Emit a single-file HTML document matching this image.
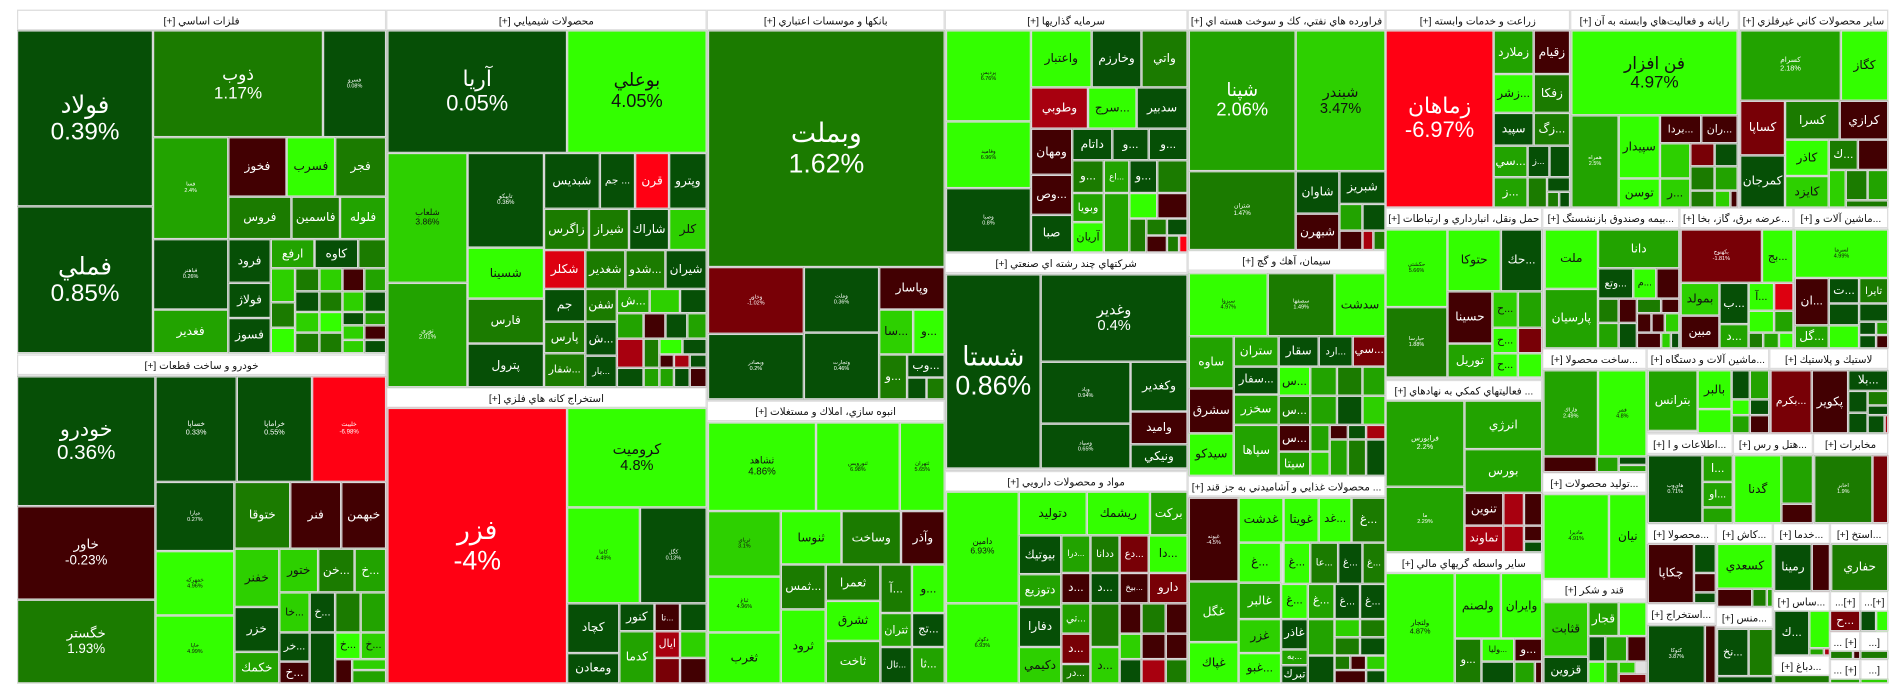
<!DOCTYPE html>
<html><head><meta charset="utf-8">
<style>
html,body{margin:0;padding:0;background:#fff;width:1904px;height:698px;overflow:hidden}
#wrap{position:absolute;left:0;top:0;width:1568px;height:575px;transform:scale(1.2143,1.2139);transform-origin:0 0;font-family:"Liberation Sans","DejaVu Sans",sans-serif}
.sec{position:absolute;background:#e2e2e2;box-sizing:border-box;border:1px solid #d4d4d4}
.hdr{position:absolute;background:#fff;color:#111;font-size:8.5px;line-height:16px;text-align:center;white-space:nowrap;overflow:hidden;direction:rtl;box-sizing:border-box;border:1px solid #ddd}
.t{position:absolute;box-sizing:border-box;border:1px solid #d8d8d8;display:flex;flex-direction:column;align-items:center;justify-content:center;overflow:hidden;text-align:center;line-height:1.1;white-space:nowrap;direction:rtl}
</style></head><body>
<div id="wrap"></div>
<script>
const sectorTitles=['فلزات اساسي [+]','خودرو و ساخت قطعات [+]','محصولات شيميايي [+]','استخراج كانه هاي فلزي [+]','بانكها و موسسات اعتباري [+]','انبوه سازي، املاك و مستغلات [+]','سرمايه گذاريها [+]','شركتهاي چند رشته اي صنعتي [+]','مواد و محصولات دارويي [+]','فراورده هاي نفتي، كك و سوخت هسته اي [+]','سيمان، آهك و گچ [+]','... محصولات غذايي و آشاميدني به جز قند [+]','زراعت و خدمات وابسته [+]','رايانه و فعاليت‌هاي وابسته به آن [+]','ساير محصولات كاني غيرفلزي [+]','حمل ونقل، انبارداري و ارتباطات [+]','... فعاليتهاي كمكي به نهادهاي [+]','ساير واسطه گريهاي مالي [+]','...بيمه وصندوق بازنشستگ [+]','...عرضه برق، گاز، بخا [+]','...ماشين آلات و [+]','...ساخت محصولا [+]','...توليد محصولات [+]','قند و شكر [+]','...ماشين آلات و دستگاه [+]','لاستيك و پلاستيك [+]','...اطلاعات و ا [+]','...هتل و رس [+]','مخابرات [+]','...محصولا [+]','...استخراج [+]','...كاش [+]','...منس [+]','...خدما [+]','...استخ [+]','...ساس [+]','...دباغ [+]','[+]...','[+]...','[+] ...','[...','[+] ...','[...'];
const sectorBoxes=[[14,8,318,291],[14,292,318,563],[318,8,582,319],[318,319,582,563],[582,8,778,330],[582,330,778,563],[778,8,978,208],[778,208,978,388],[778,388,978,563],[978,8,1141,206],[978,206,1141,392],[978,392,1141,563],[1141,8,1293,171],[1293,8,1432,171],[1432,8,1555,171],[1141,171,1270,313],[1141,313,1270,455],[1141,455,1270,563],[1270,171,1383,287],[1383,171,1477,287],[1477,171,1555,287],[1270,287,1356,389],[1270,389,1356,477],[1270,477,1356,563],[1356,287,1457,357],[1457,287,1555,357],[1356,357,1427,431],[1427,357,1493,431],[1493,357,1555,431],[1356,431,1413,497],[1356,497,1413,563],[1413,431,1460,500],[1413,500,1460,563],[1460,431,1507,487],[1507,431,1555,487],[1460,487,1507,540],[1460,540,1507,563],[1507,487,1532,520],[1532,487,1555,520],[1507,520,1532,543],[1532,520,1555,543],[1507,543,1532,563],[1532,543,1555,563]];
const colorScale={D:'#064f06',M:'#1b7b00',G:'#22a300',L:'#2dd000',B:'#33ff00',R:'#ff0013',X:'#dd0010',r:'#a8000f',k:'#780006',K:'#420002'};
// tiles: x1,y1,x2,y2,color,symbol,change,fontSize
const tiles=[
[14,25,126,170,'D','فولاد','0.39%',20],[14,170,126,291,'D','فملي','0.85%',20],[126,25,266,113,'M','ذوب','1.17%',14],[266,25,318,113,'D','فسرو','0.08%',4.5],
[126,113,188,197,'G','فسا','2.4%',4.5],[126,197,188,255,'D','فباهنر','0.26%',4.5],[126,255,188,291,'G','فغدير'],
[188,113,236,162,'K','فخوز'],[236,113,276,162,'B','فسرب'],[276,113,318,162,'M','فجر'],[188,162,240,197,'M','فروس'],[240,162,280,197,'M','فاسمين'],[280,162,318,197,'G','فلوله'],
[188,197,223,233,'D','فرود'],[188,233,223,262,'D','فولاژ'],[188,262,223,291,'D','فسوز'],[223,197,259,221,'G','ارفع'],[259,197,295,221,'D','كاوه'],[295,197,318,221,'M',''],
[223,221,243,249,'L',''],[223,249,243,270,'M',''],[223,270,243,291,'B',''],[243,221,263,240,'M',''],[243,240,263,257,'D',''],[243,257,263,274,'L',''],[243,274,263,291,'M',''],
[263,221,282,240,'L',''],[263,240,282,257,'M',''],[263,257,282,274,'B',''],[263,274,282,291,'M',''],[282,221,300,240,'K',''],[282,240,300,257,'L',''],[282,257,300,268,'D',''],[282,268,300,280,'L',''],[282,280,300,291,'L',''],
[300,221,318,240,'G',''],[300,240,318,257,'D',''],[300,257,318,268,'G',''],[300,268,318,280,'K',''],[300,280,318,291,'D',''],
[14,310,128,417,'D','خودرو','0.36%',17],[14,417,128,494,'K','خاور','-0.23%',11],[14,494,128,563,'M','خگستر','1.93%',11],
[128,310,195,397,'D','خساپا','0.33%',6],[195,310,257,397,'D','خراماپا','0.55%',6],[257,310,318,397,'R','خليبت','-6.98%',5],
[128,397,193,454,'D','ميارا','0.27%',4.5],[128,454,193,507,'B','خمهركه','4.96%',4.5],[128,507,193,563,'B','خاپا','4.99%',4.5],
[193,397,239,452,'M','ختوقا'],[239,397,281,452,'K','فنر'],[281,397,318,452,'K','خبهمن'],[193,452,230,500,'L','خفنر'],[193,500,230,537,'D','خزر'],[193,537,230,563,'G','خكمك'],
[230,452,262,488,'L','ختور'],[262,452,292,488,'M','...خن'],[292,452,318,488,'G','...خ'],[230,488,255,521,'L','...خا'],[255,488,276,521,'D','...خ'],[276,488,297,521,'M',''],[297,488,318,521,'G',''],
[230,521,255,545,'D','...خر'],[255,521,276,563,'D',''],[276,521,297,543,'B','...خ'],[297,521,318,543,'L','...خ'],[230,545,255,563,'K','...خ'],[276,543,290,563,'K',''],[290,543,318,552,'L',''],[290,552,318,563,'G',''],
[319,25,467,126,'D','آريا','0.05%',18],[467,25,582,126,'B','بوعلي','4.05%',15],[319,126,385,233,'L','شلعاب','3.86%',7],[319,233,385,319,'G','نوري','2.01%',5],
[385,126,448,204,'D','تاپيكو','0.36%',5],[385,204,448,246,'B','شسينا'],[385,246,448,283,'M','فارس'],[385,283,448,319,'D','پترول'],
[448,126,494,172,'D','شبديس'],[494,126,523,172,'D','... جم'],[523,126,551,172,'R','قرن'],[551,126,582,172,'D','وپترو'],
[448,172,485,206,'M','زاگرس'],[485,172,518,206,'M','شيراز'],[518,172,551,206,'D','شاراك'],[551,172,582,206,'L','كلر'],
[448,206,482,238,'X','شكلر'],[482,206,515,238,'M','شغدير'],[515,206,548,238,'M','...شدو'],[548,206,582,238,'D','شيران'],
[448,238,482,265,'D','جم'],[482,238,508,265,'M','شفن'],[508,238,535,258,'G','...ش'],[535,238,560,258,'L',''],[560,238,582,258,'D',''],
[448,265,482,291,'M','پارس'],[482,265,508,293,'D','...ش'],[448,291,482,319,'M','...شفار'],[482,293,508,319,'D','...بار'],
[508,258,530,279,'G',''],[530,258,548,279,'K',''],[548,258,566,279,'D',''],[566,258,582,279,'G',''],
[508,279,530,303,'r',''],[530,279,543,303,'M',''],[543,279,562,292,'B',''],[562,279,582,292,'D',''],[543,292,555,303,'K',''],[555,292,568,303,'r',''],[568,292,582,303,'D',''],
[508,303,530,319,'D',''],[530,303,543,319,'G',''],[543,303,555,319,'G',''],[555,303,568,319,'D',''],[568,303,582,319,'K',''],
[319,336,467,563,'R','فزر','-4%',22],[467,336,582,418,'B','كروميت','4.8%',12],[467,418,527,497,'B','كاما','4.49%',4.5],[527,418,582,497,'D','كگل','0.13%',4.5],
[467,497,510,538,'D','كچاد'],[467,538,510,563,'D','ومعادن'],[510,497,539,520,'D','كنور'],[510,520,539,563,'G','كدما'],[539,497,560,520,'K','...تا'],[539,520,560,542,'r','ايال'],[539,542,560,563,'k',''],[560,497,582,520,'D',''],[560,520,582,542,'L',''],[560,542,582,563,'K',''],
[583,25,778,220,'M','وبملت','1.62%',22],[583,220,662,275,'k','وخاور','-1.02%',4.5],[583,275,662,329,'D','وبصادر','0.2%',4.5],[662,220,724,274,'D','وملت','0.36%',4.5],[662,274,724,329,'D','وتجارت','0.46%',4.5],
[724,220,778,255,'K','وپاسار'],[724,255,752,292,'L','...سا'],[752,255,778,292,'B','...و'],[724,292,747,329,'M','...و'],[747,292,778,311,'D','...وب'],[747,311,763,329,'D',''],[763,311,778,329,'M',''],
[583,348,672,421,'B','ثشاهد','4.86%',8],[672,348,741,421,'B','ثنورويس','6.98%',4.5],[741,348,778,421,'B','ثتهران','5.65%',4.5],
[583,421,643,475,'L','ثرياي','3.1%',4.5],[583,475,643,521,'B','ثباغ','4.96%',4.5],[583,521,643,563,'B','ثغرب'],
[643,421,693,465,'B','ثنوسا'],[693,421,742,465,'M','وساخت'],[742,421,778,465,'K','وآذر'],
[643,465,680,502,'M','...ثمس'],[680,465,725,495,'M','ثعمرا'],[725,465,751,505,'M','...آ'],[751,465,778,505,'B','...و'],
[643,502,680,563,'B','ثرود'],[680,495,725,528,'B','ثشرق'],[680,528,725,563,'G','ثاخت'],[725,505,751,533,'G','ثتران'],[751,505,778,533,'D','...تج'],[725,533,751,563,'D','...ثال'],[751,533,778,563,'G','...ثا'],
[779,25,849,100,'B','پرديس','6.76%',4.5],[779,100,849,155,'B','وفاميد','6.96%',4.5],[779,155,849,208,'D','وصبا','0.8%',4.5],
[849,25,899,72,'B','واعتبار'],[899,25,940,72,'D','وخارزم'],[940,25,978,72,'M','واتي'],
[849,72,896,106,'r','وطوبي'],[896,72,936,106,'B','...سرج'],[936,72,978,106,'D','سدبير'],
[849,106,883,144,'K','ومهان'],[849,144,883,177,'K','...وص'],[849,177,883,208,'D','صبا'],
[883,106,916,132,'D','داتام'],[916,106,946,132,'D','...و'],[946,106,978,132,'D','...و'],
[883,132,909,159,'M','...و'],[909,132,930,159,'G','...اع'],[930,132,953,159,'D','...و'],[953,132,978,159,'M',''],
[883,159,909,183,'G','وبويا'],[883,183,909,208,'B','آريان'],[909,159,930,208,'G',''],[930,159,953,180,'B',''],[953,159,978,180,'K',''],
[930,180,944,208,'M',''],[944,180,961,194,'M',''],[961,180,978,194,'D',''],[944,194,961,208,'K',''],[961,194,971,208,'M',''],[971,194,978,208,'R',''],
[779,226,857,386,'D','شستا','0.86%',22],[857,226,978,298,'D','وغدير','0.4%',12],[857,298,931,349,'D','وپاد','0.94%',4.5],[857,349,931,386,'D','وسپاد','0.65%',4.5],
[931,298,978,339,'D','وكغدير'],[931,339,978,366,'K','واميد'],[931,366,978,386,'D','ونيكي'],
[779,405,839,497,'B','دامين','6.93%',7],[779,497,839,563,'B','دكوثر','6.93%',4.5],
[839,405,895,441,'B','دتوليد'],[895,405,947,441,'B','ريشمك'],[947,405,978,441,'G','بركت'],
[839,441,874,473,'D','بيوتيك'],[839,473,874,500,'G','دتوزيع'],[839,500,874,533,'D','دفارا'],[839,533,874,563,'L','دكيمي'],
[874,441,898,472,'G','...درا'],[898,441,922,472,'M','ددانا'],[922,441,946,472,'k','...دع'],[946,441,978,472,'B','...دا'],
[874,472,898,497,'K','...د'],[898,472,922,497,'D','...د'],[922,472,946,497,'K','...بيخ'],[946,472,978,497,'k','دارو'],
[874,497,898,522,'G','...تي'],[898,497,922,533,'M',''],[922,497,940,522,'K',''],[940,497,960,522,'M',''],[960,497,978,522,'K',''],
[874,522,898,547,'k','...د'],[874,547,898,563,'M','...در'],[898,533,922,563,'L','...د'],[922,522,940,543,'L',''],[922,543,940,563,'D',''],[940,522,960,543,'K',''],[960,522,978,543,'K',''],[940,543,960,563,'r',''],[960,543,978,563,'M',''],
[979,25,1067,141,'G','شپنا','2.06%',15],[1067,25,1141,141,'L','شبندر','3.47%',12],[979,141,1067,206,'M','شتران','1.47%',5],
[1067,141,1103,176,'D','شاوان'],[1103,141,1141,168,'D','شبريز'],[1067,176,1103,206,'K','شبهرن'],
[1103,168,1122,190,'G',''],[1122,168,1141,190,'D',''],[1103,190,1122,206,'K',''],[1122,190,1131,206,'r',''],[1131,190,1141,206,'M',''],
[979,225,1044,277,'B','سبزوا','4.97%',4.5],[1044,225,1099,277,'M','سصفها','1.49%',4.5],[1099,225,1141,277,'B','سدشت'],
[979,277,1016,320,'G','ساوه'],[979,320,1016,357,'K','سشرق'],[979,357,1016,392,'B','سيدكو'],
[1016,277,1053,302,'G','ستران'],[1053,277,1086,302,'D','سقار'],[1086,277,1114,302,'D','...ارد'],[1114,277,1141,302,'k','...سي'],
[1016,302,1053,325,'D','...سفار'],[1016,325,1053,350,'G','سخزر'],[1016,350,1053,392,'G','سپاها'],
[1053,302,1079,326,'B','...س'],[1079,302,1101,326,'G',''],[1101,302,1122,326,'M',''],[1122,302,1141,326,'G',''],
[1053,326,1079,350,'M','...س'],[1079,326,1101,350,'G',''],[1101,326,1122,350,'D',''],[1122,326,1141,350,'L',''],
[1053,350,1079,372,'K','...س'],[1079,350,1095,372,'G',''],[1095,350,1110,362,'K',''],[1110,350,1125,362,'D',''],[1125,350,1141,362,'r',''],
[1053,372,1079,392,'G','سيتا'],[1079,372,1095,392,'L',''],[1095,362,1110,392,'G',''],[1110,362,1125,392,'M',''],[1125,362,1141,392,'D',''],
[979,410,1020,479,'K','غپونه','-4.5%',4.5],[979,479,1020,529,'G','غگل'],[979,529,1020,563,'B','غپاك'],
[1020,410,1057,447,'B','غدشت'],[1057,410,1086,447,'B','غويتا'],[1086,410,1113,447,'B','...غد'],[1113,410,1141,447,'M','...غ'],
[1020,447,1055,480,'B','...غ'],[1057,447,1079,481,'B','...غ'],[1079,447,1102,481,'M','...عا'],[1102,447,1122,481,'D','...غ'],[1122,447,1141,481,'M','...غ'],
[1020,480,1055,510,'G','غالبر'],[1020,510,1055,538,'L','غزر'],[1020,538,1055,563,'B','...غبو'],
[1055,481,1077,510,'B','...غ'],[1077,481,1099,510,'G','...غ'],[1099,481,1120,510,'D','...غ'],[1120,481,1141,510,'D','...غ'],
[1055,510,1077,535,'D','غاذر'],[1055,535,1077,548,'G','...به'],[1055,548,1077,563,'D','تبرك'],
[1077,510,1099,540,'G',''],[1099,510,1120,525,'L',''],[1120,510,1141,525,'M',''],[1099,525,1120,540,'M',''],[1120,525,1141,540,'D',''],[1077,540,1099,563,'D',''],[1099,540,1112,552,'M',''],[1112,540,1125,552,'K',''],[1125,540,1141,552,'L',''],[1099,552,1125,563,'K',''],[1125,552,1141,563,'D',''],
[1141,25,1230,171,'R','زماهان','-6.97%',18],[1230,25,1263,61,'G','زملارد'],[1263,25,1293,61,'K','زقيام'],[1230,61,1263,93,'B','...زشر'],[1263,61,1293,93,'M','زفكا'],
[1230,93,1263,120,'D','سپيد'],[1263,93,1293,120,'M','...زگ'],[1230,120,1258,146,'G','...سي'],[1258,120,1276,146,'D','...ز'],[1276,120,1293,146,'D',''],
[1230,146,1258,171,'G','...ز'],[1258,146,1274,171,'M',''],[1274,146,1293,158,'D',''],[1274,158,1284,171,'M',''],[1284,158,1293,171,'D',''],
[1294,25,1431,95,'B','فن افزار','4.97%',14],[1294,95,1333,171,'G','همراه','2.5%',4.5],[1333,95,1367,147,'B','سپيدار'],[1333,147,1367,171,'B','توسن'],
[1367,95,1401,118,'K','...بردا'],[1401,95,1431,118,'K','...ران'],[1367,118,1392,147,'L',''],[1392,118,1412,137,'k',''],[1412,118,1431,137,'D',''],[1392,137,1412,157,'M',''],[1412,137,1431,157,'G',''],
[1367,147,1392,171,'L','...ر'],[1392,157,1412,171,'M',''],[1412,157,1425,171,'L',''],[1425,157,1431,171,'K',''],
[1433,25,1516,83,'G','كسرام','2.18%',6],[1516,25,1555,83,'B','كگاز'],[1433,83,1470,128,'k','كساپا'],[1433,128,1470,171,'D','كمرجان'],
[1470,83,1515,115,'M','كسرا'],[1515,83,1555,115,'K','كرازي'],[1470,115,1506,145,'B','كاذر'],[1470,145,1506,171,'L','كايزد'],
[1506,115,1530,140,'M','...ك'],[1530,115,1555,140,'K',''],[1506,140,1520,171,'L',''],[1520,140,1538,165,'M',''],[1538,140,1555,165,'G',''],[1520,165,1555,171,'M',''],
[1141,189,1192,253,'B','حكشتي','5.66%',4.5],[1141,253,1192,311,'M','حپارسا','1.88%',4.5],[1192,189,1236,240,'B','حتوكا'],[1236,189,1270,240,'D','...حك'],
[1192,240,1229,283,'K','حسينا'],[1192,283,1229,311,'G','توريل'],[1229,240,1250,270,'L','...ح'],[1250,240,1270,270,'G',''],[1229,270,1250,291,'B','...ح'],[1250,270,1270,291,'k',''],[1229,291,1250,311,'B','...ح'],[1250,291,1270,311,'B',''],
[1141,330,1206,401,'G','فرابورس','2.2%',6],[1141,401,1206,455,'G','ما','2.29%',4.5],[1206,330,1270,370,'G','انرژي'],[1206,370,1270,406,'G','بورس'],
[1206,406,1238,433,'K','تنوين'],[1206,433,1238,455,'r','تماوند'],[1238,406,1255,433,'r',''],[1255,406,1270,433,'K',''],[1238,433,1255,455,'r',''],[1255,433,1270,446,'K',''],[1255,446,1270,455,'D',''],
[1141,472,1198,563,'B','ولتجار','4.87%',6],[1198,472,1236,526,'B','ولصنم'],[1236,472,1270,526,'B','وايران'],[1198,526,1220,563,'M','...و'],
[1220,526,1247,545,'B','...وليا'],[1247,526,1270,545,'K','...و'],[1220,545,1247,563,'D',''],[1247,545,1264,563,'G',''],[1264,545,1270,563,'K',''],
[1272,189,1316,238,'B','ملت'],[1272,238,1316,287,'G','پارسيان'],[1316,189,1383,221,'G','دانا'],[1316,221,1345,246,'D','...وتع'],[1345,221,1364,246,'B','...م'],[1364,221,1383,246,'K',''],
[1316,246,1333,266,'M',''],[1333,246,1348,266,'K',''],[1348,246,1368,258,'M',''],[1368,246,1383,258,'K',''],[1348,258,1360,274,'K',''],[1360,258,1371,274,'K',''],[1371,258,1383,274,'L',''],
[1316,266,1333,287,'G',''],[1333,266,1348,287,'D',''],[1348,274,1368,287,'K',''],[1368,274,1376,287,'L',''],[1376,274,1383,287,'D',''],
[1384,189,1451,233,'k','بكهنوج','-1.81%',4.5],[1451,189,1477,233,'B','...بج'],[1384,233,1416,260,'L','بمولد'],[1384,260,1416,287,'K','مبين'],
[1416,233,1440,267,'D','...ب'],[1440,233,1461,256,'B','...آ'],[1461,233,1477,256,'X',''],[1416,267,1440,287,'G','...د'],[1440,256,1461,274,'B',''],[1461,256,1477,274,'G',''],[1440,274,1452,287,'M',''],[1452,274,1465,287,'G',''],[1465,274,1477,287,'B',''],
[1478,189,1555,229,'B','لسرما','4.99%',4.5],[1478,229,1506,268,'K','...ان'],[1506,229,1531,250,'D','...ت'],[1531,229,1555,250,'M','تايرا'],[1478,268,1506,287,'G','...گل'],
[1506,250,1531,268,'D',''],[1531,250,1555,265,'D',''],[1506,268,1531,287,'B',''],[1531,265,1545,276,'D',''],[1545,265,1555,276,'G',''],[1531,276,1545,287,'D',''],[1545,276,1555,287,'K',''],
[1271,305,1316,376,'G','فاراك','2.49%',4.5],[1316,305,1356,376,'B','فمر','4.8%',4.5],[1271,376,1315,389,'K',''],[1315,376,1333,389,'G',''],[1333,376,1356,383,'D',''],[1333,383,1356,389,'G',''],
[1271,407,1325,477,'B','ماديرا','4.91%',4.5],[1325,407,1356,477,'B','نيان'],
[1271,496,1308,541,'L','قثابت'],[1271,541,1308,563,'D','قزوين'],[1308,496,1333,524,'G','قجار'],[1333,496,1356,524,'B',''],[1308,524,1322,545,'D',''],[1322,524,1340,545,'G',''],[1340,524,1356,545,'K',''],
[1308,545,1322,563,'B',''],[1322,545,1333,563,'G',''],[1333,545,1347,555,'L',''],[1333,555,1356,563,'k',''],
[1357,305,1398,355,'G','بترانس'],[1398,305,1426,337,'B','بالبر'],[1398,337,1426,357,'B',''],[1426,305,1441,329,'D',''],[1441,305,1457,329,'G',''],[1426,329,1441,342,'B',''],[1441,329,1457,342,'D',''],[1426,342,1441,357,'G',''],[1441,342,1457,357,'K',''],
[1458,305,1492,357,'k','...بكرم'],[1492,305,1522,357,'K','پكوير'],[1522,305,1555,322,'D','...بلا'],[1522,322,1538,340,'D',''],[1538,322,1555,334,'M',''],[1538,334,1555,342,'D',''],[1522,340,1538,357,'D',''],[1538,342,1552,357,'D',''],[1552,342,1555,357,'r',''],
[1357,375,1402,431,'D','هاي‌وب','0.71%',4.5],[1402,375,1427,397,'G','...ا'],[1402,397,1427,418,'G','...او'],[1402,418,1427,431,'G',''],
[1428,375,1467,431,'B','گدنا'],[1467,375,1493,415,'G',''],[1467,415,1493,431,'K',''],
[1494,375,1542,431,'M','اخابر','1.9%',4.5],[1542,375,1555,431,'k',''],
[1357,448,1395,497,'K','چكاپا'],[1395,448,1413,472,'D',''],[1395,472,1413,488,'K',''],[1395,488,1413,497,'D',''],
[1357,515,1404,563,'D','كتوكا','3.87%',4.5],[1404,515,1413,563,'K',''],
[1414,448,1460,485,'B','كسعدي'],[1414,485,1443,500,'K',''],[1443,485,1455,500,'M',''],[1455,485,1460,500,'G',''],
[1414,518,1440,557,'D','...نخ'],[1440,518,1460,557,'M',''],[1414,557,1460,563,'D',''],
[1461,448,1492,487,'D','رمينا'],[1492,448,1507,487,'K',''],[1508,448,1555,487,'M','حفاري'],
[1461,503,1490,540,'D','...ك'],[1490,503,1507,534,'B',''],[1490,534,1502,540,'G',''],[1502,534,1507,540,'r',''],
[1461,556,1507,563,'M',''],
[1507,503,1532,520,'k','...ح'],[1532,503,1545,520,'D',''],[1545,503,1555,520,'B',''],
[1507,536,1526,543,'M',''],[1526,536,1532,543,'K',''],[1532,536,1555,543,'M',''],[1507,559,1532,563,'G',''],[1532,559,1555,563,'L','']
];

const wrap=document.getElementById('wrap');
sectorBoxes.forEach((b,i)=>{
  const s=document.createElement('div');
  s.className='sec';
  
  
  s.style.cssText=`left:${b[0]}px;top:${b[1]}px;width:${b[2]-b[0]}px;height:${b[3]-b[1]}px`;
  wrap.appendChild(s);
  const h=document.createElement('div');
  h.className='hdr';
  
  
  h.style.cssText=`left:${b[0]}px;top:${b[1]}px;width:${b[2]-b[0]}px;height:17px`;
  h.textContent=sectorTitles[i];
  wrap.appendChild(h);
});
tiles.forEach(t=>{
  const [x1,y1,x2,y2,c,name,pct,fsIn]=t;
  const w=x2-x1,h=y2-y1;
  const d=document.createElement('div');
  d.className='t';
  
  
  const dark=(c==='B'||c==='L');
  let fs=fsIn;
  if(!fs){const len=Math.max((name||'').length,1);fs=Math.max(4,Math.min(10,(w-3)/(len*0.5),(h-2)/1.4));}
  d.style.cssText=`left:${x1}px;top:${y1}px;width:${w}px;height:${h}px;background:${colorScale[c]};color:${dark?'#111':'#fff'};font-size:${fs}px`;
  if(name){const a=document.createElement('span');a.textContent=name;d.appendChild(a);}
  if(pct){const p=document.createElement('span');p.textContent=pct;p.style.direction='ltr';d.appendChild(p);}
  wrap.appendChild(d);
});
</script>
</body></html>
